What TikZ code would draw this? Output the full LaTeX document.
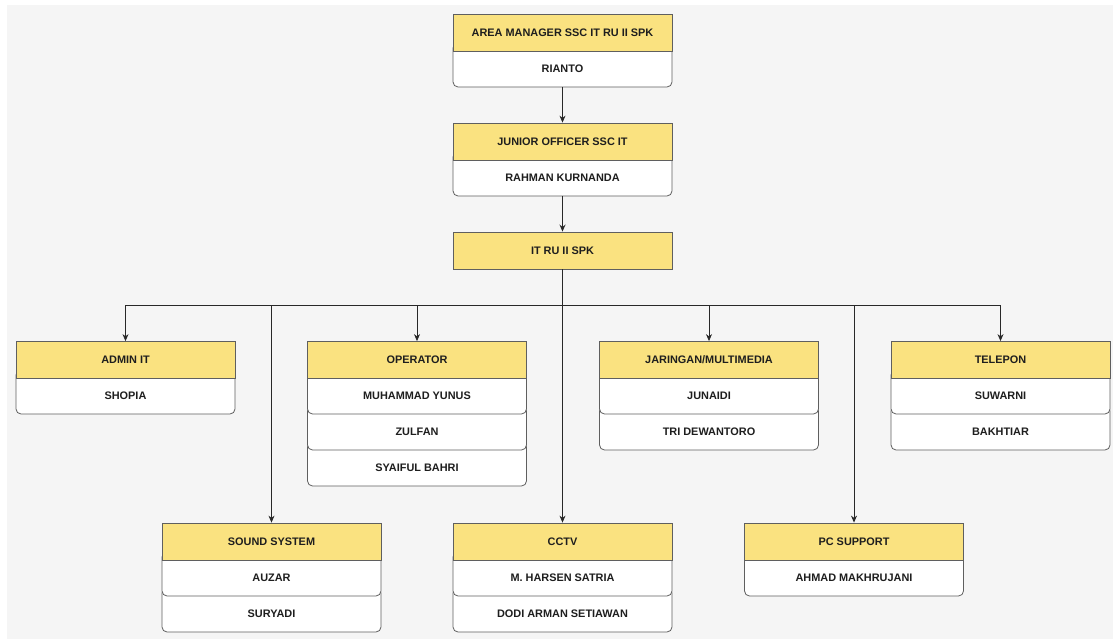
\documentclass[tikz,border=0pt]{standalone}
\usepackage{fontspec}
\setmainfont{Liberation Sans}
\usetikzlibrary{arrows.meta}
\definecolor{hdr}{RGB}{250,226,128}
\definecolor{bgc}{RGB}{245,245,245}
\definecolor{edge}{RGB}{95,95,95}
\definecolor{ink}{RGB}{30,30,30}
\definecolor{wire}{RGB}{40,40,40}
\tikzset{
  hdrbox/.style={draw=edge, fill=hdr, line width=0.8pt, minimum width=219pt, minimum height=37pt,
    inner sep=0pt, font=\fontsize{10.9}{13}\selectfont\bfseries, text=ink},
  rowshape/.style={draw=edge, fill=white, line width=0.8pt, rounded corners=5pt},
  rowtext/.style={inner sep=0pt, font=\fontsize{10.9}{13}\selectfont\bfseries, text=ink},
  link/.style={draw=wire, line width=0.8pt},
  arr/.style={link, -{Stealth[length=7pt,width=6pt]}},
}
% cx, top, bottom, name, text
\newcommand\orgrow[5]{%
  \path[rowshape] (#1-109.5,#2-8) rectangle (#1+109.5,#3);
  \node[rowtext] (#4) at (#1,{(#2+#3)/2}) {#5};}
\begin{document}
\begin{tikzpicture}[x=1pt,y=-1pt]
\useasboundingbox (0,0) rectangle (1113,639);
\fill[white] (0,0) rectangle (1113,639);
\fill[bgc] (7,5) rectangle (1113,639);

% top
\orgrow{562.5}{51}{87}{rianto}{RIANTO}
\node[hdrbox] (am) at (562.5,32.5) {AREA MANAGER SSC IT RU II SPK};
% junior
\orgrow{562.5}{160}{196}{rahman}{RAHMAN KURNANDA}
\node[hdrbox] (jo) at (562.5,141.5) {JUNIOR OFFICER SSC IT};
% it
\node[hdrbox] (it) at (562.5,250.5) {IT RU II SPK};

% admin
\orgrow{125.5}{378}{414}{shopia}{SHOPIA}
\node[hdrbox] (admin) at (125.5,360) {ADMIN IT};
% operator
\orgrow{417}{450}{486}{syaiful}{SYAIFUL BAHRI}
\orgrow{417}{414}{450}{zulfan}{ZULFAN}
\orgrow{417}{378}{414}{yunus}{MUHAMMAD YUNUS}
\node[hdrbox] (op) at (417,360) {OPERATOR};
% jaringan
\orgrow{709}{414}{450}{tri}{TRI DEWANTORO}
\orgrow{709}{378}{414}{junaidi}{JUNAIDI}
\node[hdrbox] (jar) at (709,360) {JARINGAN/MULTIMEDIA};
% telepon
\orgrow{1000.5}{414}{450}{bakhtiar}{BAKHTIAR}
\orgrow{1000.5}{378}{414}{suwarni}{SUWARNI}
\node[hdrbox] (tel) at (1000.5,360) {TELEPON};

% sound system
\orgrow{271.5}{596}{632}{suryadi}{SURYADI}
\orgrow{271.5}{560}{596}{auzar}{AUZAR}
\node[hdrbox] (snd) at (271.5,541.5) {SOUND SYSTEM};
% cctv
\orgrow{562.5}{596}{632}{dodi}{DODI ARMAN SETIAWAN}
\orgrow{562.5}{560}{596}{harsen}{M. HARSEN SATRIA}
\node[hdrbox] (cctv) at (562.5,541.5) {CCTV};
% pc support
\orgrow{854}{560}{596}{ahmad}{AHMAD MAKHRUJANI}
\node[hdrbox] (pc) at (854,541.5) {PC SUPPORT};

% connectors
\draw[arr] (rianto.center |- 0,87) -- (jo.north);
\draw[arr, line width=1.2pt] (rahman.center |- 0,196) -- (it.north);
\coordinate (bus) at (562.5,305);
\draw[link] (admin.north |- bus) -- (tel.north |- bus);
\draw[arr] (it.south) -- (cctv.north);
\draw[arr] (admin.north |- bus) -- (admin.north);
\draw[arr] (op.north |- bus) -- (op.north);
\draw[arr] (jar.north |- bus) -- (jar.north);
\draw[arr] (tel.north |- bus) -- (tel.north);
\draw[arr] (snd.north |- bus) -- (snd.north);
\draw[arr] (pc.north |- bus) -- (pc.north);
\end{tikzpicture}
\end{document}
